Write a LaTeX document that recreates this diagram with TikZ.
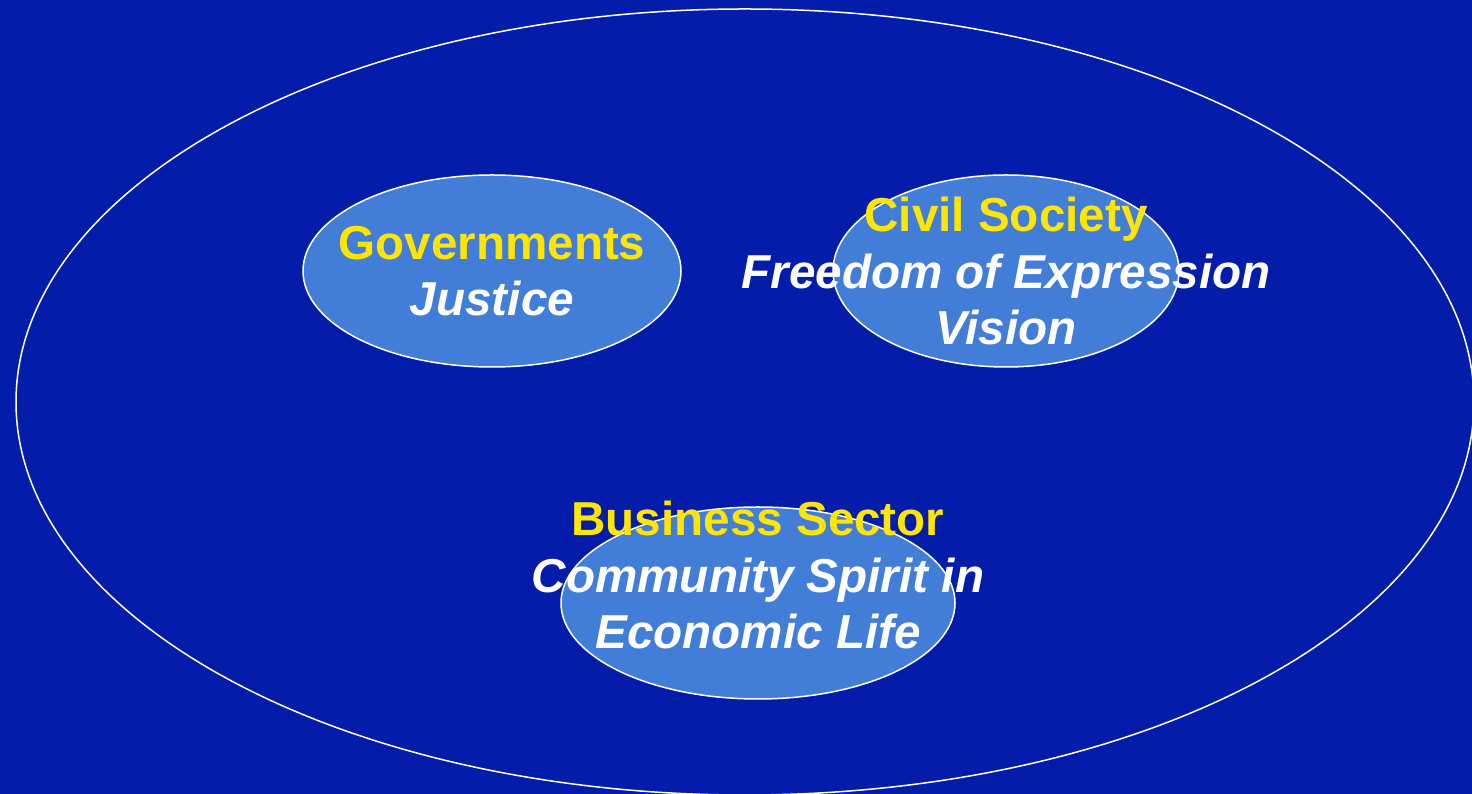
\documentclass[tikz,border=0pt]{standalone}
\usepackage{fontspec}
\setmainfont{Liberation Sans}
\usetikzlibrary{shapes.geometric}
\definecolor{bgblue}{HTML}{031CA9}
\definecolor{sectorblue}{HTML}{427ED7}
\definecolor{titleyellow}{HTML}{FFE600}
\newcommand{\sectorname}[1]{\textcolor{titleyellow}{\textbf{#1}}}
\newcommand{\sectorvalue}[1]{\textcolor{white}{\textbf{\textit{#1}}}}

\begin{document}
\begin{tikzpicture}[
  x=1pt, y=1pt,
  sector/.style={ellipse, draw=white, fill=sectorblue, line width=1.5pt, inner sep=0pt},
  label text/.style={align=center, font=\fontsize{47.6}{56.5}\selectfont}
]
\fill[bgblue] (0,0) rectangle (1472,794);
\useasboundingbox (0,0) rectangle (1472,794);

\node[ellipse, draw=white, line width=1.5pt, minimum width=1458pt, minimum height=786pt] (society) at (745,392) {};

\node[sector, minimum width=378pt, minimum height=192pt] (gov) at (492,523) {};
\node[sector, minimum width=346pt, minimum height=192pt] (civil) at (1006,523) {};
\node[sector, minimum width=394pt, minimum height=192pt] (business) at (758,191) {};

\node[label text] (govtext) at (gov.center) {\sectorname{Governments}\\\sectorvalue{Justice}};
\node[label text] (civiltext) at (civil.center) {\sectorname{Civil Society}\\\sectorvalue{Freedom of Expression}\\\sectorvalue{Vision}};
\node[label text] (businesstext) at ([yshift=28pt]business.center) {\sectorname{Business Sector}\\\sectorvalue{Community Spirit in}\\\sectorvalue{Economic Life}};
\end{tikzpicture}
\end{document}
